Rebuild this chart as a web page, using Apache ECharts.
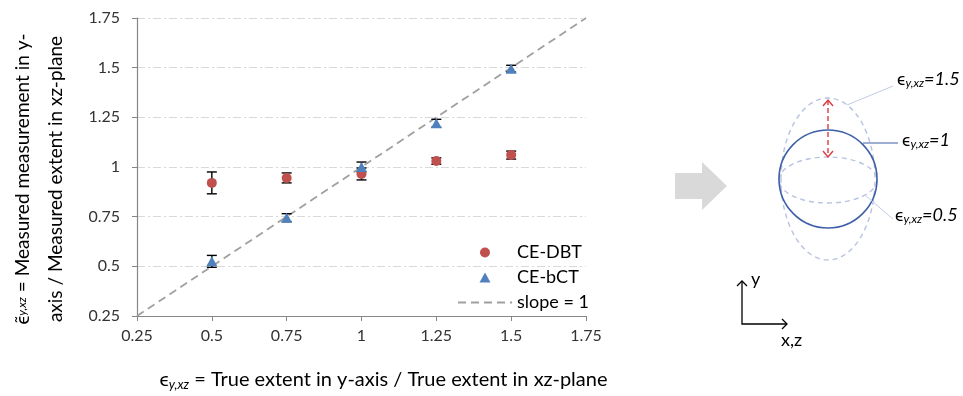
<!DOCTYPE html>
<html>
<head>
<meta charset="utf-8">
<script src="https://cdn.jsdelivr.net/npm/echarts@6/dist/echarts.min.js"></script>
<style>
html,body{margin:0;padding:0;background:#fff;}
#chart{width:963px;height:396px;}
</style>
</head>
<body>
<div id="chart"></div>
<script>
// ---- data ----
const ratioTrue = [0.5, 0.75, 1, 1.25, 1.5];
const dbtMean = [0.92, 0.945, 0.965, 1.03, 1.06];
const dbtErr  = [0.055, 0.025, 0.03, 0.016, 0.02];
const bctMean = [0.525, 0.745, 1.0, 1.22, 1.495];
const bctErr  = [0.03, 0.02, 0.025, 0.02, 0.017];
const slopeX = [0.25, 1.75];
const slopeY = [0.25, 1.75];
const seriesNames = ['CE-DBT', 'CE-bCT', 'slope = 1'];
const axisMin = 0.25, axisMax = 1.75, axisStep = 0.25;

const FONT = 'Lato';
const RED = '#C0504D', BLUE = '#4F81BD', SLOPE = '#A0A0A0';

function errRender(params, api) {
  const x = api.value(0), lo = api.value(1), hi = api.value(2);
  const a = api.coord([x, hi]), b = api.coord([x, lo]);
  const w = 5, st = {stroke: '#000', lineWidth: 1.4};
  return {type: 'group', children: [
    {type: 'line', shape: {x1: a[0], y1: a[1], x2: b[0], y2: b[1]}, style: st},
    {type: 'line', shape: {x1: a[0] - w, y1: a[1], x2: a[0] + w, y2: a[1]}, style: st},
    {type: 'line', shape: {x1: b[0] - w, y1: b[1], x2: b[0] + w, y2: b[1]}, style: st}
  ]};
}

const chart = echarts.init(document.getElementById('chart'), null, {renderer: 'canvas'});

function lbl(val) {
  return '{e|ϵ}{s|y,xz}{n|=' + val + '}';
}
const lblRich = {
  e: {fontFamily: FONT, fontSize: 18, color: '#000'},
  s: {fontFamily: FONT, fontSize: 12, fontStyle: 'italic', color: '#000', padding: [8, 0, 0, 0]},
  n: {fontFamily: FONT, fontSize: 18, fontStyle: 'italic', color: '#000'}
};

// legend icons (keep marker centred within the 54px legend key)
const triIcon = 'path://M0,0M54,10M21.5,10L27,0L32.5,10Z';
const circIcon = 'path://M0,0M54,10M27,0A5,5,0,1,1,26.99,0Z';
const dashIcon = 'path://M0,0M54,10M0,4h8v2h-8zM13,4h8v2h-8zM26,4h8v2h-8zM39,4h8v2h-8zM52,4h2v2h-2z';

const option = {
  animation: false,
  backgroundColor: '#fff',
  textStyle: {fontFamily: FONT},
  grid: {left: 137, right: 377, top: 18, bottom: 80, containLabel: false},
  xAxis: {
    type: 'value', min: axisMin, max: axisMax, interval: axisStep,
    name: '{e|ϵ}{s|y,xz}{t| = True extent in y-axis / True extent in xz-plane}',
    nameLocation: 'middle', nameGap: 53,
    nameTextStyle: {padding: [0, 0, 0, 44], rich: {
      e: {fontFamily: FONT, fontSize: 20, color: '#000'},
      s: {fontFamily: FONT, fontSize: 13, fontStyle: 'italic', color: '#000', padding: [9, 0, 0, 0]},
      t: {fontFamily: FONT, fontSize: 20, color: '#000'}
    }},
    axisLine: {lineStyle: {color: '#868686', width: 1.2}},
    axisTick: {show: true, inside: false, length: 5, lineStyle: {color: '#868686'}},
    axisLabel: {color: '#333', fontSize: 16, fontFamily: FONT, margin: 12},
    splitLine: {show: false}
  },
  yAxis: {
    type: 'value', min: axisMin, max: axisMax, interval: axisStep,
    name: '{e|ϵ̃}{s|y,xz}{t| = Measured measurement in y-}\n{t|axis / Measured extent in xz-plane}',
    nameLocation: 'middle', nameRotate: 90, nameGap: 65,
    nameTextStyle: {padding: [0, 24, 0, 0], rich: {
      e: {fontFamily: FONT, fontSize: 19, color: '#000', lineHeight: 33},
      s: {fontFamily: FONT, fontSize: 12, fontStyle: 'italic', color: '#000', lineHeight: 33},
      t: {fontFamily: FONT, fontSize: 19, color: '#000', lineHeight: 33}
    }},
    axisLine: {show: true, lineStyle: {color: '#868686', width: 1.2}},
    axisTick: {show: true, inside: false, length: 5, lineStyle: {color: '#868686'}},
    axisLabel: {color: '#333', fontSize: 16, fontFamily: FONT, margin: 17},
    splitLine: {show: true, lineStyle: {color: '#D9D9D9', width: 1, type: [8, 3, 2, 3]}}
  },
  legend: {
    data: [
      {name: seriesNames[0], icon: circIcon},
      {name: seriesNames[1], icon: triIcon},
      {name: seriesNames[2], icon: dashIcon}
    ],
    orient: 'vertical',
    left: 453, top: 238,
    itemWidth: 54, itemHeight: 10, itemGap: 6,
    textStyle: {fontFamily: FONT, fontSize: 18, color: '#000', lineHeight: 19},
    selectedMode: false
  },
  series: [
    {
      name: seriesNames[2], type: 'line', symbol: 'none',
      data: slopeX.map((x, i) => [x, slopeY[i]]),
      lineStyle: {color: SLOPE, width: 1.8, type: [8, 5]},
      itemStyle: {color: SLOPE}, z: 1
    },
    {
      name: 'errDBT', type: 'custom', renderItem: errRender,
      data: ratioTrue.map((x, i) => [x, dbtMean[i] - dbtErr[i], dbtMean[i] + dbtErr[i]]), z: 2
    },
    {
      name: 'errBCT', type: 'custom', renderItem: errRender,
      data: ratioTrue.map((x, i) => [x, bctMean[i] - bctErr[i], bctMean[i] + bctErr[i]]), z: 2
    },
    {
      name: seriesNames[0], type: 'scatter', symbol: 'circle', symbolSize: 10,
      data: ratioTrue.map((x, i) => [x, dbtMean[i]]),
      itemStyle: {color: RED, opacity: 1}, z: 3
    },
    {
      name: seriesNames[1], type: 'scatter', symbol: 'triangle', symbolSize: [11, 10],
      data: ratioTrue.map((x, i) => [x, bctMean[i]]),
      itemStyle: {color: BLUE, opacity: 1}, z: 3
    }
  ],
  graphic: [
    // gray arrow
    {type: 'polygon', shape: {points: [[675, 173], [702, 173], [702, 162], [727, 186], [702, 210], [702, 199], [675, 199]]},
     style: {fill: '#D9D9D9'}},
    // dashed ellipses
    {type: 'ellipse', shape: {cx: 828, cy: 179, rx: 47, ry: 81}, style: {fill: null, stroke: '#B7C3E0', lineWidth: 1.4, lineDash: [5, 4]}},
    {type: 'ellipse', shape: {cx: 828, cy: 180, rx: 49, ry: 23}, style: {fill: null, stroke: '#B7C3E0', lineWidth: 1.4, lineDash: [5, 4]}},
    // solid circle
    {type: 'circle', shape: {cx: 828, cy: 179, r: 49}, style: {fill: null, stroke: '#3E5FA8', lineWidth: 1.6}},
    // red dashed double arrow
    {type: 'line', shape: {x1: 828, y1: 100, x2: 828, y2: 157}, style: {stroke: '#E0393E', lineWidth: 1.4, lineDash: [5, 3]}},
    {type: 'polyline', shape: {points: [[823, 106], [828, 100], [833, 106]]}, style: {fill: null, stroke: '#E0393E', lineWidth: 1.4}},
    {type: 'polyline', shape: {points: [[823, 151], [828, 157], [833, 151]]}, style: {fill: null, stroke: '#E0393E', lineWidth: 1.4}},
    // leader lines
    {type: 'line', shape: {x1: 847, y1: 105, x2: 893, y2: 86}, style: {stroke: '#C3CDE6', lineWidth: 1}},
    {type: 'line', shape: {x1: 863, y1: 143, x2: 898, y2: 143}, style: {stroke: '#3E5FA8', lineWidth: 1.2}},
    {type: 'line', shape: {x1: 866, y1: 196, x2: 893, y2: 219}, style: {stroke: '#C3CDE6', lineWidth: 1}},
    // labels
    {type: 'text', left: 897, top: 70, style: {text: lbl('1.5'), rich: lblRich}},
    {type: 'text', left: 902, top: 131, style: {text: lbl('1'), rich: lblRich}},
    {type: 'text', left: 895, top: 206, style: {text: lbl('0.5'), rich: lblRich}},
    // axes glyph
    {type: 'polyline', shape: {points: [[742, 281], [742, 324], [787, 324]]}, style: {fill: null, stroke: '#000', lineWidth: 1.3}},
    {type: 'polyline', shape: {points: [[737, 286], [742, 281], [747, 286]]}, style: {fill: null, stroke: '#000', lineWidth: 1.3}},
    {type: 'polyline', shape: {points: [[782, 319], [787, 324], [782, 329]]}, style: {fill: null, stroke: '#000', lineWidth: 1.3}},
    {type: 'text', left: 751, top: 270, style: {text: 'y', fontFamily: FONT, fontSize: 18, fill: '#000'}},
    {type: 'text', left: 781, top: 331, style: {text: 'x,z', fontFamily: FONT, fontSize: 18, fill: '#000'}}
  ]
};
chart.setOption(option);
</script>
</body>
</html>
